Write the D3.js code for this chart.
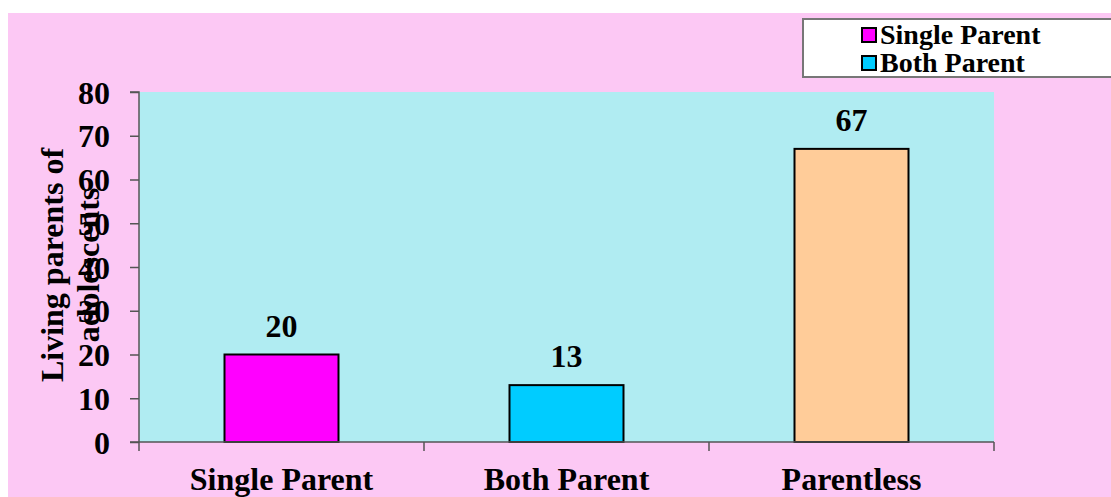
<!DOCTYPE html>
<html>
<head>
<meta charset="utf-8">
<script src="https://cdn.jsdelivr.net/npm/d3@7"></script>
<style>
  html, body { margin: 0; padding: 0; background: #ffffff; }
  svg { display: block; }
  text { font-family: "Liberation Serif", "Times New Roman", serif; font-weight: bold; fill: #000; }
</style>
</head>
<body>
<svg></svg>
<script>
const categories = ['Single Parent', 'Both Parent', 'Parentless'];
const values = [20, 13, 67];
const barColors = ['#ff00ff', '#00ccff', '#ffcc99'];
const yTicks = [0, 10, 20, 30, 40, 50, 60, 70, 80];
const legendItems = ['Single Parent', 'Both Parent'];

const W = 1111, H = 497;
const svg = d3.select('svg')
    .attr('width', W)
    .attr('height', H);

// pink chart area
svg.append('rect')
    .attr('x', 8).attr('y', 13)
    .attr('width', W - 8).attr('height', H - 13)
    .attr('fill', '#fcc8f4');

const plot = { left: 139, right: 994, top: 92, bottom: 442 };

const x = d3.scaleBand()
    .domain(categories)
    .range([plot.left, plot.right])
    .paddingInner(0.6)
    .paddingOuter(0.3);

const y = d3.scaleLinear()
    .domain([0, 80])
    .range([plot.bottom, plot.top]);

svg.append('rect')
    .attr('x', plot.left).attr('y', plot.top)
    .attr('width', plot.right - plot.left)
    .attr('height', plot.bottom - plot.top)
    .attr('fill', '#b0ecf2');

// bars
svg.selectAll('.bar')
    .data(values)
    .join('rect')
    .attr('class', 'bar')
    .attr('x', (d, i) => x(categories[i]))
    .attr('y', d => y(d))
    .attr('width', x.bandwidth())
    .attr('height', d => y(0) - y(d))
    .attr('fill', (d, i) => barColors[i])
    .attr('stroke', '#000')
    .attr('stroke-width', 2);

// value labels
svg.selectAll('.val')
    .data(values)
    .join('text')
    .attr('class', 'val')
    .attr('x', (d, i) => x(categories[i]) + x.bandwidth() / 2)
    .attr('y', d => y(d) - 18)
    .attr('text-anchor', 'middle')
    .attr('font-size', 32)
    .text(d => d);

// y axis
const yAxis = svg.append('g')
    .attr('transform', `translate(${plot.left},0)`)
    .call(d3.axisLeft(y).tickValues(yTicks).tickSize(9).tickPadding(20));
yAxis.selectAll('text')
    .attr('font-size', 32)
    .attr('dy', '0.35em')
    .style('font-family', '"Liberation Serif", serif')
    .style('font-weight', 'bold');
yAxis.selectAll('line, path').attr('stroke', '#555').attr('stroke-width', 1.5);
yAxis.select('.domain').attr('d', `M-9,${plot.top}H0V${plot.bottom}`);

// x axis with ticks at band boundaries
const xAxisG = svg.append('g');
xAxisG.append('line')
    .attr('x1', plot.left - 9).attr('x2', plot.right)
    .attr('y1', plot.bottom).attr('y2', plot.bottom)
    .attr('stroke', '#555').attr('stroke-width', 1.5);
const bounds = [plot.left].concat(categories.map(c => x(c) + x.bandwidth() / 2 + x.step() / 2));
xAxisG.selectAll('.xt')
    .data(bounds)
    .join('line')
    .attr('x1', d => d).attr('x2', d => d)
    .attr('y1', plot.bottom).attr('y2', plot.bottom + 9)
    .attr('stroke', '#555').attr('stroke-width', 1.5);
xAxisG.selectAll('.xl')
    .data(categories)
    .join('text')
    .attr('x', d => x(d) + x.bandwidth() / 2)
    .attr('y', 490)
    .attr('text-anchor', 'middle')
    .attr('font-size', 32)
    .text(d => d);

// y title
const yt = svg.append('text')
    .attr('transform', 'translate(63,265) rotate(-90)')
    .attr('text-anchor', 'middle')
    .attr('font-size', 32);
yt.append('tspan').attr('x', 0).attr('dy', 0).text('Living parents of');
yt.append('tspan').attr('x', 0).attr('dy', 36).text('adolescents');

// legend
const lg = svg.append('g');
lg.append('rect')
    .attr('x', 803).attr('y', 19)
    .attr('width', 320).attr('height', 58)
    .attr('fill', '#fff')
    .attr('stroke', '#777')
    .attr('stroke-width', 2);
legendItems.forEach((name, i) => {
  lg.append('rect')
      .attr('x', 862).attr('y', 28 + i * 28)
      .attr('width', 14).attr('height', 14)
      .attr('fill', barColors[i])
      .attr('stroke', '#000')
      .attr('stroke-width', 2);
  lg.append('text')
      .attr('x', 880).attr('y', 44 + i * 28)
      .attr('font-size', 28)
      .text(name);
});
</script>
</body>
</html>
